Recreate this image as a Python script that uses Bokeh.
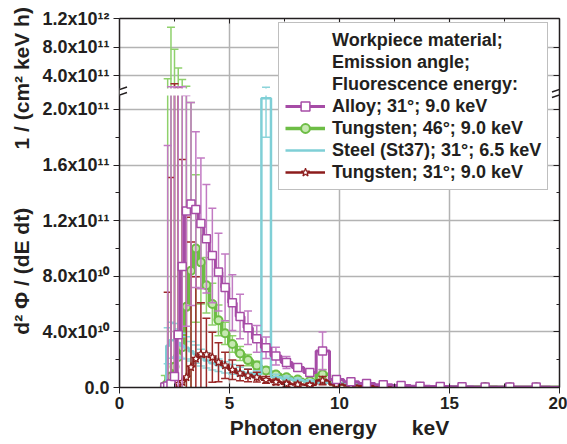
import numpy as np
from bokeh.plotting import figure
from bokeh.models import (Range1d, FixedTicker, LinearAxis, CustomJSTickFormatter, CustomJSTransform,
                          ColumnDataSource, BoxAnnotation, Legend, LegendItem, Arrow)
from bokeh.transform import transform
from bokeh.embed import file_html
from bokeh.resources import INLINE

# ---------------- data ----------------
energy_keV = [2.06, 2.19, 2.34, 2.50, 2.67, 2.85, 3.04, 3.25, 3.47, 3.70, 3.95, 4.22, 4.50, 4.80,
              5.13, 5.48, 5.84, 6.24, 6.66, 7.11, 7.59, 8.10, 8.65, 9.23, 9.86, 10.52, 11.23, 11.99,
              12.80, 13.66, 14.58, 15.57, 16.62, 17.74, 18.94, 20.22]

alloy_31 = [0.4e9, 1.0e9, 2.5e9, 8.0e9, 3.8e10, 8.7e10, 1.27e11, 1.32e11, 1.28e11, 1.18e11, 1.07e11, 9.5e10,
            8.3e10, 7.2e10, 6.1e10, 5.1e10, 4.3e10, 3.5e10, 2.86e10, 2.26e10, 1.80e10, 1.44e10, 1.07e10, 2.63e10,
            5.8e9, 4.1e9, 2.9e9, 2.0e9, 1.4e9, 0.9e9, 0.7e9, 0.5e9, 0.4e9, 0.3e9, 0.3e9, 0.2e9]
alloy_31_err = [0.3e9, 1.73e11, 2.42e11, 2.37e11, 2.07e11, 1.58e11, 8.3e10, 7.3e10, 5.6e10, 4.7e10, 3.9e10, 3.4e10,
                2.8e10, 2.4e10, 2.0e10, 1.6e10, 1.2e10, 9.6e9, 7.7e9, 6.4e9, 4.3e9, 2.6e9, 2.1e9, 1.36e10,
                2.0e9, 1.5e9, 1.0e9, 0.8e9, 0.6e9, 0.5e9, 0.4e9, 0.3e9, 0.3e9, 0.2e9, 0.2e9, 0.2e9]

tungsten_46 = [1.0e9, 3.0e9, 8.0e9, 1.5e10, 2.2e10, 2.9e10, 5.8e10, 8.4e10, 1.0e11, 9.0e10, 7.35e10, 6.0e10,
               4.83e10, 3.9e10, 3.13e10, 2.45e10, 1.97e10, 1.59e10, 1.23e10, 9.4e9, 7.4e9, 5.8e9, 4.7e9, 9.5e9,
               2.9e9, 2.1e9, 1.5e9, 1.0e9, 0.7e9, 0.5e9, 0.4e9, 0.3e9, 0.3e9, 0.2e9, 0.2e9, 0.1e9]
tungsten_46_err = [7.6e9, 3.54e11, 1.07e12, 7.55e11, 4.84e11, 3.18e11, 1.92e11, 1.21e11, 5.3e10, 3.0e10, 2.0e10, 1.5e10,
                   1.1e10, 8.0e9, 6.0e9, 5.0e9, 4.0e9, 3.0e9, 2.5e9, 2.0e9, 1.8e9, 1.5e9, 1.3e9, 3.5e9,
                   1.0e9, 0.8e9, 0.6e9, 0.5e9, 0.4e9, 0.3e9, 0.3e9, 0.2e9, 0.2e9, 0.2e9, 0.1e9, 0.1e9]

steel_31 = [1.0e9, 3.0e10, 3.4e10, 3.4e10, 3.2e10, 3.0e10, 2.85e10, 2.6e10, 2.4e10, 2.15e10, 1.95e10, 1.75e10,
            1.6e10, 1.45e10, 1.3e10, 1.15e10, 1.05e10, 9.5e9, 2.08e11, 7.5e9, 6.5e9, 5.3e9, 4.3e9, 3.5e9,
            2.8e9, 2.2e9, 1.6e9, 1.1e9, 0.8e9, 0.5e9, 0.3e9, 0.3e9, 0.2e9, 0.2e9, 0.1e9, 0.1e9]
steel_31_err = [0.5e9, 1.3e10, 1.3e10, 1.2e10, 1.0e10, 9.0e9, 8.0e9, 7.0e9, 6.5e9, 6.0e9, 5.5e9, 5.0e9,
                4.5e9, 4.0e9, 3.5e9, 3.0e9, 3.0e9, 2.5e9, 2.8e10, 2.0e9, 1.8e9, 1.5e9, 1.3e9, 1.1e9,
                1.0e9, 0.8e9, 0.6e9, 0.5e9, 0.4e9, 0.3e9, 0.2e9, 0.2e9, 0.2e9, 0.1e9, 0.1e9, 0.1e9]

tungsten_31 = [0.0, 0.5e9, 1.0e9, 1.5e9, 2.5e9, 4.0e9, 7.4e9, 1.46e10, 2.07e10, 2.4e10, 2.38e10, 2.18e10,
               1.82e10, 1.59e10, 1.28e10, 1.03e10, 8.6e9, 7.4e9, 5.5e9, 4.0e9, 2.7e9, 2.2e9, 1.9e9, 5.0e9,
               2.2e9, 1.5e9, 1.0e9, 0.7e9, 0.5e9, 0.3e9, 0.3e9, 0.2e9, 0.2e9, 0.1e9, 0.1e9, 0.1e9]
tungsten_31_err = [0.0, 6.8e10, 1.5e11, 2.85e11, 2.3e11, 1.6e11, 1.15e11, 9.0e10, 5.9e10, 3.7e10, 2.6e10, 1.8e10,
                   1.4e10, 9.5e9, 7.0e9, 5.5e9, 4.5e9, 3.5e9, 2.5e9, 2.0e9, 1.8e9, 1.5e9, 1.3e9, 3.0e9,
                   1.2e9, 0.8e9, 0.6e9, 0.5e9, 0.4e9, 0.3e9, 0.2e9, 0.2e9, 0.2e9, 0.1e9, 0.1e9, 0.1e9]

x_ticks = [0, 5, 10, 15, 20]
x_minor_ticks = [2.5, 7.5, 12.5, 17.5]
y_ticks_low = [0, 4e10, 8e10, 1.2e11, 1.6e11, 2.0e11]
y_minor_low = [2e10, 6e10, 1.0e11, 1.4e11, 1.8e11]
y_ticks_high = [4e11, 8e11, 1.2e12]

legend_header = ["Workpiece material;", "Emission angle;", "Fluorescence energy:"]
series_labels = ["Alloy; 31°; 9.0 keV", "Tungsten; 46°; 9.0 keV",
                 "Steel (St37); 31°; 6.5 keV", "Tungsten; 31°; 9.0 keV"]

NB = "\u00a0"
x_title = "Photon energy" + NB * 6 + "keV"
y_title = NB * 11 + "d² Φ / (dE dt)" + NB * 10 + "1 / (cm² keV h)"

# ---------------- broken y axis (layout) ----------------
LOW_MAX, HIGH_MIN, HIGH_MAX = 2.1e11, 2.2e11, 1.2e12
PX_LOW, PX_GAP, PX_HIGH = 292, 7, 70
U = LOW_MAX / PX_LOW
GAP_U = PX_GAP * U
K = PX_HIGH * U / (HIGH_MAX - HIGH_MIN)


def fwd(v):
    if v <= LOW_MAX:
        return v
    if v >= HIGH_MIN:
        return LOW_MAX + GAP_U + (v - HIGH_MIN) * K
    return LOW_MAX + (v - LOW_MAX) / (HIGH_MIN - LOW_MAX) * GAP_U


Y_END = fwd(HIGH_MAX)

brk = CustomJSTransform(args=dict(lo=LOW_MAX, hi=HIGH_MIN, g=GAP_U, k=K), func="""
return x <= lo ? x : (x >= hi ? lo + g + (x - hi) * k : lo + (x - lo) / (hi - lo) * g);
""", v_func="""
const out = new Float64Array(xs.length);
for (let i = 0; i < xs.length; i++) {
  const x = xs[i];
  out[i] = x <= lo ? x : (x >= hi ? lo + g + (x - hi) * k : lo + (x - lo) / (hi - lo) * g);
}
return out;
""")

FONT = "Liberation Sans"
INK = "#231f20"

p = figure(x_range=Range1d(0, 20), y_range=Range1d(0, Y_END),
           frame_width=440, frame_height=PX_LOW + PX_GAP + PX_HIGH,
           min_border_left=119, min_border_right=8, min_border_top=18, min_border_bottom=50,
           output_backend="svg", toolbar_location=None,
           background_fill_color="white", border_fill_color="white", outline_line_color=None)

xticker = FixedTicker(ticks=x_ticks, minor_ticks=x_minor_ticks)
yticker = FixedTicker(ticks=y_ticks_low + [fwd(v) for v in y_ticks_high], minor_ticks=y_minor_low)

fmt = CustomJSTickFormatter(args=dict(lo=LOW_MAX, hi=HIGH_MIN, g=GAP_U, k=K), code="""
let v = tick;
if (tick > lo + 0.5 * g) { v = hi + (tick - lo - g) / k; }
if (Math.abs(v) < 1) { return "0.0"; }
const e = Math.floor(Math.log10(Math.abs(v)) + 1e-6);
const m = v / Math.pow(10, e);
const sup = ["\u2070", "\u00b9", "\u00b2", "\u00b3", "\u2074", "\u2075", "\u2076", "\u2077", "\u2078", "\u2079"];
let s = "";
for (const c of String(e)) { s += sup[parseInt(c)]; }
return m.toFixed(1) + "x10" + s;
""")
blank = CustomJSTickFormatter(code="return '';")

xa = p.xaxis[0]
xa.ticker = xticker
xa.major_label_text_font = FONT
xa.major_label_text_font_style = "bold"
xa.major_label_text_font_size = "17px"
xa.major_label_text_color = INK
xa.major_tick_in, xa.major_tick_out = 4, 6
xa.minor_tick_in, xa.minor_tick_out = 4, 0
xa.major_label_standoff = 3
xa.axis_line_width = 1.5
xa.axis_line_color = INK
xa.major_tick_line_color = INK
xa.minor_tick_line_color = INK
xa.axis_label = x_title
xa.axis_label_text_font = FONT
xa.axis_label_text_font_style = "bold"
xa.axis_label_text_font_size = "21px"
xa.axis_label_text_color = INK
xa.axis_label_standoff = 4

ya = p.yaxis[0]
ya.ticker = yticker
ya.formatter = fmt
ya.major_label_text_font = FONT
ya.major_label_text_font_style = "bold"
ya.major_label_text_font_size = "18px"
ya.major_label_text_color = INK
ya.major_tick_in, ya.major_tick_out = 0, 6
ya.minor_tick_in, ya.minor_tick_out = 0, 4
ya.major_label_standoff = 4
ya.axis_line_width = 1.5
ya.axis_line_color = INK
ya.major_tick_line_color = INK
ya.minor_tick_line_color = INK
ya.axis_label = y_title
ya.axis_label_text_font = FONT
ya.axis_label_text_font_style = "bold"
ya.axis_label_text_font_size = "21px"
ya.axis_label_text_color = INK
ya.axis_label_standoff = 6

top_ax = LinearAxis(ticker=xticker, formatter=blank, major_label_standoff=0,
                    major_tick_in=5, major_tick_out=0, minor_tick_in=3, minor_tick_out=0,
                    axis_line_width=1.5, axis_line_color=INK, major_tick_line_color=INK, minor_tick_line_color=INK)
p.add_layout(top_ax, "above")
right_ax = LinearAxis(ticker=yticker, formatter=blank, major_label_standoff=0,
                      major_tick_in=6, major_tick_out=0, minor_tick_in=3, minor_tick_out=0,
                      axis_line_width=1.5, axis_line_color=INK, major_tick_line_color=INK, minor_tick_line_color=INK)
p.add_layout(right_ax, "right")

p.xgrid.ticker = FixedTicker(ticks=x_ticks)
p.ygrid.ticker = FixedTicker(ticks=[fwd(v) for v in y_ticks_low[1:]] + [fwd(v) for v in y_ticks_high[:-1]])
for g in (p.xgrid[0], p.ygrid[0]):
    g.grid_line_color = "#b3b3b3"
    g.grid_line_width = 1.5


def draw(vals, errs, color, err_color, lw, marker=None, msize=8, mfill="white", mlw=1.5):
    src = ColumnDataSource(dict(
        x=energy_keV, y=vals,
        lo=[v - e for v, e in zip(vals, errs)],
        hi=[v + e for v, e in zip(vals, errs)]))
    p.segment(x0="x", y0=transform("lo", brk), x1="x", y1=transform("hi", brk), source=src,
              line_color=err_color, line_width=1.5)
    for col in ("lo", "hi"):
        p.scatter(x="x", y=transform(col, brk), marker="dash", size=8, source=src,
                  line_color=err_color, line_width=1.5)
    st = p.step(x="x", y=transform("y", brk), mode="center", source=src, line_color=color, line_width=lw)
    rs = [st]
    if marker:
        rs.append(p.scatter(x="x", y=transform("y", brk), marker=marker, size=msize, source=src,
                            line_color=color, fill_color=mfill, line_width=mlw))
    return rs


MAG, MAG_E = "#a64ca6", "#c27ac3"
GRN, GRN_E = "#6dbd45", "#8fd16c"
CYN, CYN_E = "#7fcfd6", "#8cd4da"
DRD, DRD_E = "#8c1c1c", "#9c2a2a"

r_w46 = draw(tungsten_46, tungsten_46_err, GRN, GRN_E, 3.5, "circle", 8, "#c5e8b0", 2)
r_steel = draw(steel_31, steel_31_err, CYN, CYN_E, 2.5)
r_w31 = draw(tungsten_31, tungsten_31_err, DRD, DRD_E, 2.5, "star", 9, "white", 1.2)
r_alloy = draw(alloy_31, alloy_31_err, MAG, MAG_E, 3, "square", 8, "white", 1.5)

# white gaps that break the data between the two panels
for l, r in ((0, 4.93), (5.07, 7.2)):
    p.add_layout(BoxAnnotation(left=l, right=r, bottom=LOW_MAX, top=LOW_MAX + GAP_U,
                               fill_color="white", fill_alpha=1, line_alpha=0))

# axis break marks
dx = 7.5 / 22.0
for x0 in (0, 20):
    for yc in (LOW_MAX + GAP_U - 1 * U, LOW_MAX + 0.5 * U):
        p.add_layout(Arrow(end=None, x_start=x0 - dx, y_start=yc - 2.5 * U, x_end=x0 + dx, y_end=yc + 2.5 * U,
                           line_color=INK, line_width=1.5))

# legend
dummies = [p.line(x=[], y=[], line_alpha=0) for _ in legend_header]
items = [LegendItem(label=h, renderers=[d]) for h, d in zip(legend_header, dummies)]
for lab, rs in zip(series_labels, (r_alloy, r_w46, r_steel, r_w31)):
    items.append(LegendItem(label=lab, renderers=rs))
legend = Legend(items=items, location=(159, 197), label_text_font=FONT, label_text_font_style="bold",
                label_text_font_size="18px", label_text_color=INK, label_height=22, glyph_height=22,
                glyph_width=40, label_standoff=7, spacing=0, padding=6, margin=0,
                border_line_color="#808080", border_line_width=1.5, background_fill_color="white",
                background_fill_alpha=1)
p.add_layout(legend)

open("out.html", "w").write(file_html(p, INLINE, title="spectrum"))
